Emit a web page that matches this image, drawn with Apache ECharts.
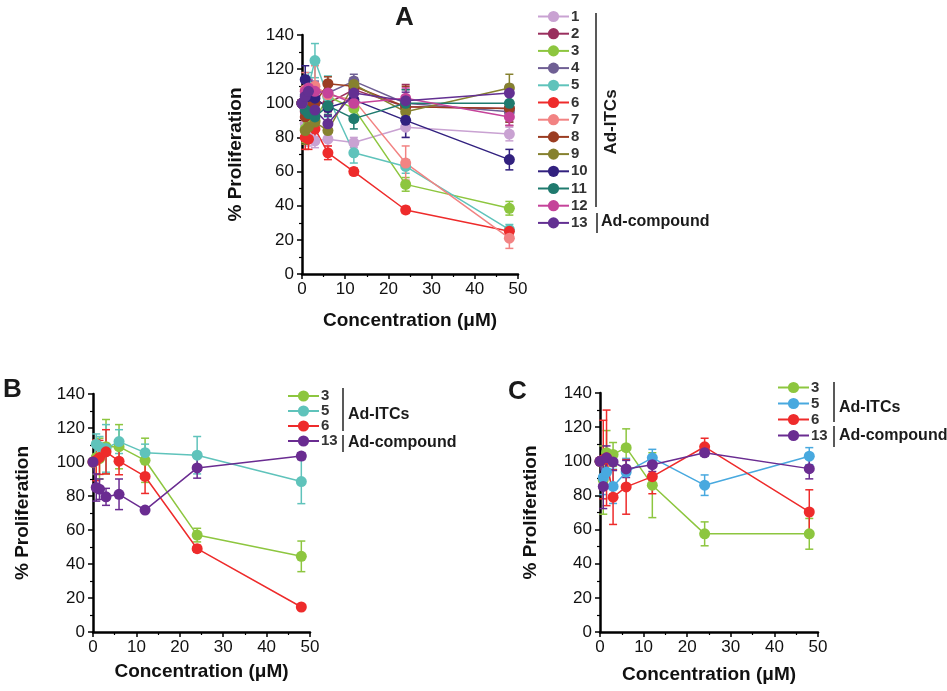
<!DOCTYPE html>
<html><head><meta charset="utf-8">
<script src="https://cdn.jsdelivr.net/npm/echarts@6/dist/echarts.min.js"></script>
<style>html,body{margin:0;padding:0;background:#fff}#c{width:947px;height:691px}</style>
</head><body><div id="c"></div>
<script>
// ---------- DATA ----------
const conc = [0, 0.75, 1.5, 3, 6, 12, 24, 48];
const xTicks = [0, 10, 20, 30, 40, 50];
const yTicks = [0, 20, 40, 60, 80, 100, 120, 140];

// Panel A (13 compounds)
const aNames = ['1','2','3','4','5','6','7','8','9','10','11','12','13'];
const aColors = ['#c9a2d2','#9a2f5e','#8dc63f','#6f5f94','#5fc3bb','#ee2b2b','#f28383','#9b3d22','#86812f','#32217f','#1f7a6e','#c5439a','#633092'];
const aS1  = [100, 88, 80, 78, 79, 77, 86, 82];
const aS2  = [100, 95, 98, 100, 100, 108, 98, 97];
const aS3  = [100, 85, 88, 90, 104, 97, 52.5, 38.5];
const aS4  = [100, 105, 108, 107, 106, 113, 100, 95];
const aS5  = [100, 97, 110, 125, 104, 71, 63, 26];
const aS6  = [100, 80, 79, 85, 71, 60, 37.5, 25];
const aS7  = [100, 108, 104, 110, 105, 102, 65, 21];
const aS8  = [100, 92, 98, 100, 111.5, 110, 98, 97];
const aS9  = [100, 84, 86, 89, 84, 111, 95, 109];
const aS10 = [100, 114, 104, 103, 97.5, 102, 90, 67];
const aS11 = [100, 96, 94, 92, 98.5, 91, 100, 100];
const aS12 = [100, 107, 109, 107, 106, 100, 103, 92];
const aS13 = [100, 104, 107, 96, 88, 106, 101.5, 106];
const aE1  = [0, 6, 5, 4, 4, 3, 6, 4];
const aE2  = [0, 8, 6, 6, 5, 5, 13, 10];
const aE3  = [0, 8, 6, 5, 8, 8, 4, 4];
const aE4  = [0, 8, 6, 6, 6, 4, 8, 6];
const aE5  = [0, 8, 8, 10, 12, 6, 4, 3];
const aE6  = [0, 7, 6, 5, 4, 2, 2, 2];
const aE7  = [0, 10, 8, 12, 6, 6, 10, 6];
const aE8  = [0, 6, 6, 5, 4, 5, 12, 8];
const aE9  = [0, 8, 6, 6, 5, 4, 6, 8];
const aE10 = [0, 8, 6, 6, 5, 5, 10, 6];
const aE11 = [0, 6, 5, 5, 5, 6, 8, 5];
const aE12 = [0, 6, 5, 5, 5, 4, 6, 5];
const aE13 = [0, 8, 6, 6, 5, 5, 5, 5];
const aVals = [aS1,aS2,aS3,aS4,aS5,aS6,aS7,aS8,aS9,aS10,aS11,aS12,aS13];
const aErrs = [aE1,aE2,aE3,aE4,aE5,aE6,aE7,aE8,aE9,aE10,aE11,aE12,aE13];

// Panel B
const bNames = ['3','5','6','13'];
const bColors = ['#8dc63f','#5fc3bb','#ee2b2b','#6a2c91'];
const bS3  = [100, 102.7, 102, 109, 109, 101, 57, 44.5];
const bS5  = [100, 110.5, 109, 108, 112, 105.5, 104, 88.5];
const bS6  = [100, 101, 102.7, 106, 100.5, 91.5, 49, 14.7];
const bS13 = [100, 85, 84, 79.5, 81, 71.7, 96.5, 103.5];
const bE3  = [0, 10, 12, 16, 13, 13, 4, 9];
const bE5  = [0, 6, 6, 14, 7, 5, 11, 13];
const bE6  = [0, 12, 10, 13, 8, 10, 2, 1];
const bE13 = [0, 8, 6, 5, 9, 1, 6, 2];
const bVals = [bS3,bS5,bS6,bS13];
const bErrs = [bE3,bE5,bE6,bE13];

// Panel C
const cNames = ['3','5','6','13'];
const cColors = ['#8dc63f','#48a9df','#ee2b2b','#6a2c91'];
const cS3  = [100, 89, 105, 104, 108, 86, 57.5, 57.5];
const cS5  = [100, 90.5, 93.7, 85.3, 93.7, 102, 86, 103];
const cS6  = [100, 101, 102, 79, 85, 91, 108.5, 70.3];
const cS13 = [100, 85.3, 102, 99.6, 95.5, 98, 105, 95.7];
const cE3  = [0, 20, 13, 7, 11, 19, 7, 9];
const cE5  = [0, 10, 8, 10, 8, 5, 6, 5];
const cE6  = [0, 23, 28, 16, 16, 10, 5, 13];
const cE13 = [0, 13, 7, 5, 5, 4, 2, 6];
const cVals = [cS3,cS5,cS6,cS13];
const cErrs = [cE3,cE5,cE6,cE13];

// ---------- CHART ----------
const FF = '"Liberation Sans", Arial, sans-serif';
const chart = echarts.init(document.getElementById('c'), null, {renderer:'canvas'});

const grids = [
  {left:302, top:35, width:216, height:239},
  {left:93, top:394, width:217, height:238},
  {left:600, top:393, width:218, height:239}
];
const xNameGap = [37, 30, 33];
const yNameGap = [57, 61, 60];

function xAxisFor(i){
  return {type:'value', gridIndex:i, min:xTicks[0], max:xTicks[xTicks.length-1], interval:10,
    axisLine:{onZero:false, lineStyle:{color:'#000', width:2.5}},
    axisTick:{length:5, lineStyle:{color:'#000', width:1.5}},
    minorTick:{show:true, splitNumber:2, length:3, lineStyle:{color:'#000', width:1.2}},
    splitLine:{show:false},
    axisLabel:{color:'#111', fontSize:17, fontFamily:FF, margin:7},
    name:'Concentration (\u03bcM)', nameLocation:'middle', nameGap:xNameGap[i],
    nameTextStyle:{color:'#111', fontSize:19, fontWeight:'bold', fontFamily:FF}};
}
function yAxisFor(i){
  return {type:'value', gridIndex:i, min:yTicks[0], max:yTicks[yTicks.length-1], interval:20,
    axisLine:{onZero:false, lineStyle:{color:'#000', width:2.5}},
    axisTick:{length:5, lineStyle:{color:'#000', width:1.5}},
    minorTick:{show:true, splitNumber:2, length:3, lineStyle:{color:'#000', width:1.2}},
    splitLine:{show:false},
    axisLabel:{color:'#111', fontSize:17, fontFamily:FF, margin:8},
    name:'% Proliferation', nameLocation:'middle', nameGap:yNameGap[i],
    nameTextStyle:{color:'#111', fontSize:19, fontWeight:'bold', fontFamily:FF}};
}

function errSeries(name, color, vals, errs, gi){
  const data = conc.map((c, k) => [c, vals[k], errs[k]]);
  return {type:'custom', name:name+'-err', xAxisIndex:gi, yAxisIndex:gi, data:data,
    encode:{x:0, y:1}, silent:true,
    renderItem:function(params, api){
      const x = api.value(0), y = api.value(1), e = api.value(2);
      if (!e) return null;
      const t = api.coord([x, y + e]), b = api.coord([x, y - e]);
      const w = 4;
      const st = {stroke:color, lineWidth:1.5};
      return {type:'group', children:[
        {type:'line', shape:{x1:t[0], y1:t[1], x2:b[0], y2:b[1]}, style:st},
        {type:'line', shape:{x1:t[0]-w, y1:t[1], x2:t[0]+w, y2:t[1]}, style:st},
        {type:'line', shape:{x1:b[0]-w, y1:b[1], x2:b[0]+w, y2:b[1]}, style:st}
      ]};
    }};
}
function lineSeries(name, color, vals, gi){
  return {type:'line', name:name, xAxisIndex:gi, yAxisIndex:gi,
    data:conc.map((c, k) => [c, vals[k]]),
    symbol:'circle', symbolSize:11, showSymbol:true,
    lineStyle:{color:color, width:1.5}, itemStyle:{color:color}};
}

const series = [];
const panels = [
  {p:'A', names:aNames, colors:aColors, vals:aVals, errs:aErrs},
  {p:'B', names:bNames, colors:bColors, vals:bVals, errs:bErrs},
  {p:'C', names:cNames, colors:cColors, vals:cVals, errs:cErrs}
];
panels.forEach((pn, gi) => {
  pn.names.forEach((n, k) => {
    series.push(errSeries(pn.p + n, pn.colors[k], pn.vals[k], pn.errs[k], gi));
    series.push(lineSeries(pn.p + n, pn.colors[k], pn.vals[k], gi));
  });
});

function legendFor(pn, left, top, gap){
  return {orient:'vertical', left:left, top:top, padding:0, itemWidth:31, itemHeight:14, itemGap:gap,
    data:pn.names.map(n => pn.p + n), selectedMode:false,
    formatter: s => s.slice(1),
    textStyle:{fontSize:15, fontWeight:'bold', color:'#333', fontFamily:FF, padding:[0,0,0,-3]}};
}

const txt = (x, y, t, size, extra) => Object.assign({type:'text', x:x, y:y,
  style:{text:t, fill:'#1a1a1a', font:'bold ' + size + 'px ' + FF, textVerticalAlign:'middle'}}, extra || {});
const vline = (x, y1, y2) => ({type:'line', shape:{x1:x, y1:y1, x2:x, y2:y2}, style:{stroke:'#222', lineWidth:1.5}});

const graphics = [
  txt(395, 18, 'A', 26),
  txt(3, 390, 'B', 26),
  txt(508, 392, 'C', 26),
  // Panel A brackets
  vline(596, 13, 207),
  {type:'text', x:611, y:122, rotation:Math.PI/2,
    style:{text:'Ad-ITCs', fill:'#1a1a1a', font:'bold 17px ' + FF, textAlign:'center', textVerticalAlign:'middle'}},
  vline(597, 213, 233),
  txt(601, 222, 'Ad-compound', 16),
  // Panel B brackets
  vline(343, 388, 431),
  txt(348, 415, 'Ad-ITCs', 16),
  vline(343, 435, 452),
  txt(348, 443, 'Ad-compound', 16),
  // Panel C brackets
  vline(834, 382, 422),
  txt(839, 408, 'Ad-ITCs', 16),
  vline(834, 426, 447),
  txt(839, 436, 'Ad-compound', 16)
];

chart.setOption({
  animation:false,
  backgroundColor:'#fff',
  grid:grids,
  xAxis:[0,1,2].map(xAxisFor),
  yAxis:[0,1,2].map(yAxisFor),
  legend:[legendFor(panels[0], 537, 9, 2.2), legendFor(panels[1], 287, 388.5, 0), legendFor(panels[2], 777, 380, 1)],
  graphic:graphics,
  series:series
});
</script></body></html>
